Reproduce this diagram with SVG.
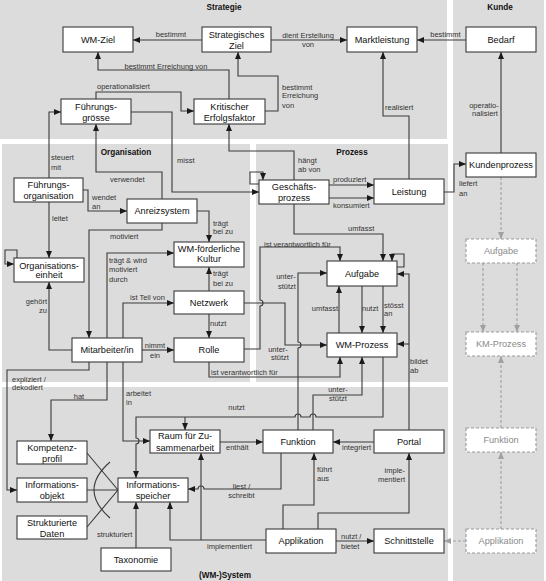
<svg xmlns="http://www.w3.org/2000/svg" width="546" height="581" viewBox="0 0 546 581">
<style>
text{font-family:"Liberation Sans",Arial,sans-serif}
.pn{fill:#dcdcdc}
.t{font-size:8.2px;font-weight:bold;fill:#111;text-anchor:middle}
.b{fill:#fff;stroke:#3a3a3a;stroke-width:1.1}
.d{fill:#fff;stroke:#9a9a9a;stroke-width:1.1;stroke-dasharray:3,2}
.n{font-size:9.2px;fill:#111;text-anchor:middle}
.nd{font-size:9.2px;fill:#8a8a8a;text-anchor:middle}
.l{font-size:7.5px;fill:#333}
.m{text-anchor:middle}
.e{text-anchor:end}
.c path{fill:none;stroke:#3a3a3a;stroke-width:1.1}
.c path.a{marker-end:url(#ah)}
.c path.g{stroke:#a0a0a0;stroke-dasharray:3,2;marker-end:url(#ag)}
</style>
<defs>
<marker id="ah" markerUnits="userSpaceOnUse" markerWidth="8" markerHeight="7" refX="7" refY="3" orient="auto"><path d="M0,0 L7,3 L0,6 z" fill="#1a1a1a"/></marker>
<marker id="ag" markerUnits="userSpaceOnUse" markerWidth="8" markerHeight="7" refX="7" refY="3" orient="auto"><path d="M0,0 L7,3 L0,6 z" fill="#a0a0a0"/></marker>
</defs>
<rect width="546" height="581" fill="#fff"/>
<g id="panels">
<rect class="pn" x="0" y="0" width="447" height="139"/>
<rect class="pn" x="453" y="0" width="91" height="581"/>
<rect class="pn" x="2" y="144" width="248" height="238"/>
<rect class="pn" x="256" y="144" width="192" height="238"/>
<rect class="pn" x="2" y="387" width="446" height="194"/>
<text class="t" x="224" y="10.3">Strategie</text>
<text class="t" x="500" y="10.3">Kunde</text>
<text class="t" x="126" y="154.6">Organisation</text>
<text class="t" x="352" y="154.6">Prozess</text>
<text class="t" x="225" y="578">(WM-)System</text>
</g>
<g class="c" id="connectors">
<path class="a" d="M202,40 H133"/>
<path class="a" d="M271,40 H347"/>
<path class="a" d="M466,40 H417"/>
<path class="a" d="M229,99 V70 H98 V52"/>
<path class="a" d="M265,111 H278 V76 H238 V52"/>
<path class="a" d="M96,99 V92 H181 V111 H194"/>
<path class="a" d="M409,179 V116 H383 V52"/>
<path class="a" d="M501,153 V52"/>
<path class="a" d="M444,192 H454 V164 H466"/>
<path class="a" d="M49,178 V112 H61"/>
<path class="a" d="M131,112 H172 V192 H259"/>
<path class="a" d="M162,200 V172 H96 V124"/>
<path class="a" d="M83,190 H88 V211 H127"/>
<path class="a" d="M49,202 V258"/>
<path class="a" d="M17,258 V250 H5 V264 H14"/>
<path class="a" d="M197,211 H209 V242"/>
<path class="a" d="M162,223 V230 H89 V338"/>
<path class="a" d="M107,338 V253 H174"/>
<path class="a" d="M209,291 V267"/>
<path class="a" d="M123,338 V303 H174"/>
<path class="a" d="M209,314 V338"/>
<path class="a" d="M142,350 H174"/>
<path class="a" d="M72,350 H49 V282"/>
<path class="a" d="M244,303 H285 V345 H327"/>
<path class="a" d="M244,349 H260 V306 a3,3 0 0 0 0,-6 V247 H340 V261"/>
<path class="a" d="M209,362 V377 H340 V357"/>
<path class="a" d="M329,185 H374"/>
<path class="a" d="M329,198 H374"/>
<path class="a" d="M294,180 V151 H229 V124"/>
<path class="a" d="M259,184 H250 V172 H263 V180"/>
<path class="a" d="M294,204 V234 H383 V261"/>
<path class="a" d="M397,267 H404 V254 H392 V261"/>
<path class="a" d="M339,333 V286"/>
<path class="a" d="M362,286 V333"/>
<path class="a" d="M383,286 V333"/>
<path class="a" d="M409,430 V274 H397"/>
<path class="a" d="M409,344 H397"/>
<path class="a" d="M298,430 V348 a3,3 0 0 0 0,-6 V273 H327"/>
<path class="a" d="M313,430 V395 H362 V357"/>
<path class="a" d="M383,357 V417 H316 a3,3 0 0 0 -6,0 H301 a3,3 0 0 0 -6,0 H136 V438 a3,3 0 0 1 0,6 V478"/>
<path class="a" d="M185,417 V430"/>
<path class="a" d="M123,362 V441 H150"/>
<path class="a" d="M107,362 V400 H51 V441"/>
<path class="a" d="M89,362 V370 H7 V490 H17"/>
<path class="a" d="M220,442 H263"/>
<path class="a" d="M374,442 H333"/>
<path class="a" d="M283,529 V505 H314 V453"/>
<path class="a" d="M318,529 V513 H409 V453"/>
<path class="a" d="M336,541 H374"/>
<path class="a" d="M281,453 V489 H204 a3,3 0 0 0 -6,0 H188"/>
<path class="a" d="M266,540 H170 V502"/>
<path class="a" d="M201,540 V453"/>
<path class="a" d="M136,548 V502"/>
<path d="M87,453 L118,490 M87,490 H118 M87,527 L118,490"/>
<path d="M110,462 Q78,490 110,518"/>
<path class="g" d="M501,177 V239"/>
<path class="g" d="M483,263 V332"/>
<path class="g" d="M517,263 V332"/>
<path class="g" d="M501,428 V356"/>
<path class="g" d="M501,529 V452"/>
<path class="g" d="M466,541 H444"/>
</g>
<g id="edge-labels" class="l">
<text class="l m" x="171" y="37.3">bestimmt</text>
<text class="l m" x="308" y="38.4">dient Erstellung</text>
<text class="l m" x="308" y="47">von</text>
<text class="l m" x="445.5" y="37">bestimmt</text>
<text class="l m" x="166" y="69.4">bestimmt Erreichung von</text>
<text class="l" x="282" y="90">bestimmt</text>
<text class="l" x="282" y="98.4">Erreichung</text>
<text class="l" x="282" y="107.7">von</text>
<text class="l" x="97" y="89.4">operationalisiert</text>
<text class="l" x="385" y="110">realisiert</text>
<text class="l m" x="484" y="107.7">operatio-</text>
<text class="l m" x="485" y="116">nalisiert</text>
<text class="l" x="459" y="185.7">liefert</text>
<text class="l" x="459" y="195.7">an</text>
<text class="l" x="51" y="160">steuert</text>
<text class="l" x="51" y="170">mit</text>
<text class="l" x="177" y="163.4">misst</text>
<text class="l" x="110" y="181.7">verwendet</text>
<text class="l" x="92" y="200">wendet</text>
<text class="l" x="92" y="209.4">an</text>
<text class="l" x="52" y="221">leitet</text>
<text class="l" x="213" y="226">trägt</text>
<text class="l" x="213" y="234.4">bei zu</text>
<text class="l" x="110" y="239.4">motiviert</text>
<text class="l" x="109" y="262.7">trägt &amp; wird</text>
<text class="l" x="109" y="272">motiviert</text>
<text class="l" x="109" y="282">durch</text>
<text class="l" x="213" y="276">trägt</text>
<text class="l" x="213" y="286">bei zu</text>
<text class="l" x="130" y="300">ist Teil von</text>
<text class="l" x="210" y="326">nutzt</text>
<text class="l m" x="155" y="348.4">nimmt</text>
<text class="l m" x="155" y="357.7">ein</text>
<text class="l e" x="47" y="304.4">gehört</text>
<text class="l e" x="47" y="313.4">zu</text>
<text class="l" x="12" y="381.7">expliziert /</text>
<text class="l" x="12" y="390">dekodiert</text>
<text class="l m" x="79" y="398.7">hat</text>
<text class="l" x="126" y="396">arbeitet</text>
<text class="l" x="126" y="405.4">in</text>
<text class="l m" x="236.5" y="409.7">nutzt</text>
<text class="l" x="264" y="246.7">ist verantwortlich für</text>
<text class="l" x="211" y="375.4">ist verantwortlich für</text>
<text class="l" x="333" y="182">produziert</text>
<text class="l" x="333" y="208.4">konsumiert</text>
<text class="l" x="298" y="163.4">hängt</text>
<text class="l" x="298" y="172">ab von</text>
<text class="l" x="348" y="231">umfasst</text>
<text class="l m" x="286" y="279.4">unter-</text>
<text class="l m" x="287" y="289.4">stützt</text>
<text class="l m" x="278" y="351.7">unter-</text>
<text class="l m" x="280" y="360.4">stützt</text>
<text class="l m" x="325" y="311">umfasst</text>
<text class="l" x="362" y="311">nutzt</text>
<text class="l" x="384" y="307.7">stösst</text>
<text class="l" x="384" y="316">an</text>
<text class="l" x="410" y="364.4">bildet</text>
<text class="l" x="410" y="372.7">ab</text>
<text class="l m" x="338" y="392">unter-</text>
<text class="l m" x="338" y="401">stützt</text>
<text class="l" x="226" y="450">enthält</text>
<text class="l" x="342" y="450">integriert</text>
<text class="l" x="317" y="472">führt</text>
<text class="l" x="317" y="481">aus</text>
<text class="l e" x="405" y="472.7">imple-</text>
<text class="l e" x="405" y="482">mentiert</text>
<text class="l" x="341" y="539.4">nutzt /</text>
<text class="l" x="341" y="548.7">bietet</text>
<text class="l m" x="241.5" y="489.4">liest /</text>
<text class="l m" x="241.5" y="497.7">schreibt</text>
<text class="l" x="207" y="549.4">implementiert</text>
<text class="l" x="97" y="537">strukturiert</text>
</g>
<g id="n-wmziel"><rect class="b" x="63" y="27" width="70" height="25"/><text class="n" x="98" y="42.8">WM-Ziel</text></g>
<g id="n-stratziel"><rect class="b" x="202" y="27" width="69" height="25"/><text class="n" x="236.5" y="37.6">Strategisches</text><text class="n" x="236.5" y="49">Ziel</text></g>
<g id="n-marktleistung"><rect class="b" x="347" y="27" width="70" height="25"/><text class="n" x="382" y="42.8">Marktleistung</text></g>
<g id="n-bedarf"><rect class="b" x="466" y="27" width="70" height="25"/><text class="n" x="501" y="42.8">Bedarf</text></g>
<g id="n-fuehrungsgroesse"><rect class="b" x="61" y="99" width="70" height="25"/><text class="n" x="96" y="110.3">Führungs-</text><text class="n" x="96" y="120.8">grösse</text></g>
<g id="n-kef"><rect class="b" x="194" y="99" width="71" height="25"/><text class="n" x="229.5" y="110.3">Kritischer</text><text class="n" x="229.5" y="120.8">Erfolgsfaktor</text></g>
<g id="n-fuehrungsorg"><rect class="b" x="14" y="178" width="69" height="24"/><text class="n" x="48.5" y="188.3">Führungs-</text><text class="n" x="48.5" y="199">organisation</text></g>
<g id="n-anreizsystem"><rect class="b" x="127" y="199" width="70" height="24"/><text class="n" x="162" y="214.3">Anreizsystem</text></g>
<g id="n-kultur"><rect class="b" x="174" y="242" width="70" height="25"/><text class="n" x="209" y="251.6">WM-förderliche</text><text class="n" x="209" y="262.3">Kultur</text></g>
<g id="n-orgeinheit"><rect class="b" x="14" y="258" width="70" height="24"/><text class="n" x="49" y="269">Organisations-</text><text class="n" x="49" y="278.3">einheit</text></g>
<g id="n-netzwerk"><rect class="b" x="174" y="291" width="70" height="23"/><text class="n" x="209" y="305.8">Netzwerk</text></g>
<g id="n-rolle"><rect class="b" x="174" y="338" width="70" height="24"/><text class="n" x="209" y="353.3">Rolle</text></g>
<g id="n-mitarbeiter"><rect class="b" x="72" y="338" width="70" height="24"/><text class="n" x="107" y="353.3">Mitarbeiter/in</text></g>
<g id="n-gp"><rect class="b" x="259" y="180" width="70" height="24"/><text class="n" x="294" y="190">Geschäfts-</text><text class="n" x="294" y="200.6">prozess</text></g>
<g id="n-leistung"><rect class="b" x="374" y="179" width="70" height="25"/><text class="n" x="409" y="194.8">Leistung</text></g>
<g id="n-kundenprozess"><rect class="b" x="466" y="153" width="70" height="24"/><text class="n" x="501" y="168.3">Kundenprozess</text></g>
<g id="n-aufgabe"><rect class="b" x="327" y="261" width="70" height="25"/><text class="n" x="362" y="276.8">Aufgabe</text></g>
<g id="n-wmprozess"><rect class="b" x="327" y="333" width="70" height="24"/><text class="n" x="362" y="348.3">WM-Prozess</text></g>
<g id="n-aufgabe-k"><rect class="d" x="466" y="239" width="70" height="24"/><text class="nd" x="501" y="254.3">Aufgabe</text></g>
<g id="n-kmprozess-k"><rect class="d" x="466" y="332" width="70" height="24"/><text class="nd" x="501" y="347.3">KM-Prozess</text></g>
<g id="n-raum"><rect class="b" x="150" y="430" width="70" height="23"/><text class="n" x="185" y="439.3">Raum für Zu-</text><text class="n" x="185" y="450.6">sammenarbeit</text></g>
<g id="n-funktion"><rect class="b" x="263" y="430" width="70" height="23"/><text class="n" x="298" y="444.8">Funktion</text></g>
<g id="n-portal"><rect class="b" x="374" y="430" width="70" height="23"/><text class="n" x="409" y="444.8">Portal</text></g>
<g id="n-funktion-k"><rect class="d" x="466" y="428" width="70" height="24"/><text class="nd" x="501" y="443.3">Funktion</text></g>
<g id="n-kompetenz"><rect class="b" x="17" y="441" width="70" height="23"/><text class="n" x="52" y="450.6">Kompetenz-</text><text class="n" x="52" y="462.3">profil</text></g>
<g id="n-infoobjekt"><rect class="b" x="17" y="478" width="70" height="24"/><text class="n" x="52" y="488.3">Informations-</text><text class="n" x="52" y="499.3">objekt</text></g>
<g id="n-strukdaten"><rect class="b" x="17" y="516" width="70" height="23"/><text class="n" x="52" y="526">Strukturierte</text><text class="n" x="52" y="537.3">Daten</text></g>
<g id="n-infospeicher"><rect class="b" x="118" y="478" width="70" height="24"/><text class="n" x="153" y="488.3">Informations-</text><text class="n" x="153" y="499.3">speicher</text></g>
<g id="n-taxonomie"><rect class="b" x="101" y="548" width="70" height="23"/><text class="n" x="136" y="562.8">Taxonomie</text></g>
<g id="n-applikation"><rect class="b" x="266" y="529" width="70" height="24"/><text class="n" x="301" y="544.3">Applikation</text></g>
<g id="n-schnittstelle"><rect class="b" x="374" y="529" width="70" height="24"/><text class="n" x="409" y="544.3">Schnittstelle</text></g>
<g id="n-applikation-k"><rect class="d" x="466" y="529" width="70" height="24"/><text class="nd" x="501" y="544.3">Applikation</text></g>
</svg>
